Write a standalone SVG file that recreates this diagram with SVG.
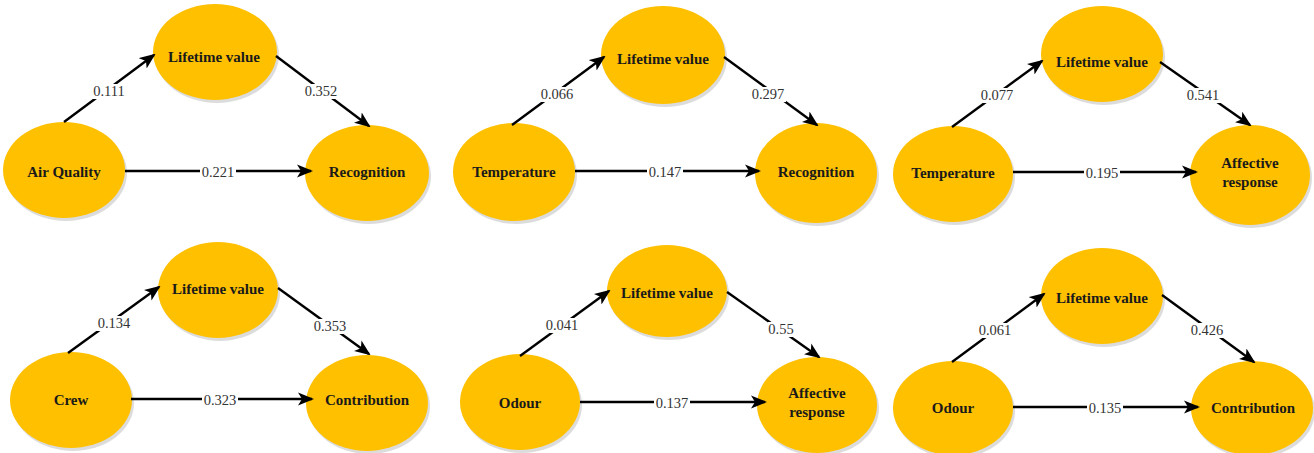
<svg xmlns="http://www.w3.org/2000/svg" width="1314" height="453" viewBox="0 0 1314 453">
<defs>
<marker id="arr" markerUnits="userSpaceOnUse" markerWidth="16" markerHeight="14" viewBox="0 0 16 14" refX="14" refY="7" orient="auto">
<path d="M0,0.5 L16,7 L0,13.5 L4,7 Z" fill="#000"/>
</marker>
</defs>
<style>
.node ellipse.body{fill:#FFC000;}
.node ellipse.sh{fill:#9a9a9a;opacity:0.35;}
.node text{font-family:"Liberation Serif","Times New Roman",serif;font-weight:bold;font-size:15px;fill:#1a1a1a;text-anchor:middle;}
.conn line{stroke:#000;stroke-width:2.4;marker-end:url(#arr);}
.lbl rect{fill:#fff;}
.lbl text{font-family:"Liberation Serif","Times New Roman",serif;font-size:14.5px;fill:#333;text-anchor:middle;}
</style>
<rect width="1314" height="453" fill="#fff"/>

<!-- Panel 1 -->
<g id="p1-lv" class="node"><ellipse class="sh" cx="217" cy="55" rx="62" ry="48"/><ellipse class="body" cx="215" cy="52" rx="62" ry="48"/><text x="214" y="62">Lifetime value</text></g>
<g id="p1-air" class="node"><ellipse class="sh" cx="66" cy="173" rx="61" ry="48"/><ellipse class="body" cx="64" cy="170" rx="61" ry="48"/><text x="64" y="177">Air Quality</text></g>
<g id="p1-rec" class="node"><ellipse class="sh" cx="369" cy="176" rx="62" ry="48"/><ellipse class="body" cx="367" cy="173" rx="62" ry="48"/><text x="367" y="177">Recognition</text></g>

<!-- Panel 2 -->
<g id="p2-lv" class="node"><ellipse class="sh" cx="665" cy="58" rx="62" ry="49"/><ellipse class="body" cx="663" cy="55" rx="62" ry="49"/><text x="663" y="64">Lifetime value</text></g>
<g id="p2-temp" class="node"><ellipse class="sh" cx="516" cy="175" rx="61" ry="49"/><ellipse class="body" cx="514" cy="172" rx="61" ry="49"/><text x="514" y="177">Temperature</text></g>
<g id="p2-rec" class="node"><ellipse class="sh" cx="818" cy="176" rx="61" ry="50"/><ellipse class="body" cx="816" cy="173" rx="61" ry="50"/><text x="816" y="177">Recognition</text></g>

<!-- Panel 3 -->
<g id="p3-lv" class="node"><ellipse class="sh" cx="1104" cy="57" rx="61" ry="48"/><ellipse class="body" cx="1102" cy="54" rx="61" ry="48"/><text x="1102" y="67">Lifetime value</text></g>
<g id="p3-temp" class="node"><ellipse class="sh" cx="955" cy="177" rx="60" ry="48"/><ellipse class="body" cx="953" cy="174" rx="60" ry="48"/><text x="953" y="178">Temperature</text></g>
<g id="p3-aff" class="node"><ellipse class="sh" cx="1252" cy="178" rx="60" ry="50"/><ellipse class="body" cx="1250" cy="175" rx="60" ry="50"/><text x="1250" y="168">Affective</text><text x="1250" y="187">response</text></g>

<!-- Panel 4 -->
<g id="p4-lv" class="node"><ellipse class="sh" cx="220" cy="293" rx="60" ry="48"/><ellipse class="body" cx="218" cy="290" rx="60" ry="48"/><text x="218" y="294">Lifetime value</text></g>
<g id="p4-crew" class="node"><ellipse class="sh" cx="73" cy="403" rx="61" ry="48"/><ellipse class="body" cx="71" cy="400" rx="61" ry="48"/><text x="71" y="405">Crew</text></g>
<g id="p4-con" class="node"><ellipse class="sh" cx="369" cy="406" rx="61" ry="48"/><ellipse class="body" cx="367" cy="403" rx="61" ry="48"/><text x="367" y="405">Contribution</text></g>

<!-- Panel 5 -->
<g id="p5-lv" class="node"><ellipse class="sh" cx="669" cy="294" rx="60" ry="46"/><ellipse class="body" cx="667" cy="291" rx="60" ry="46"/><text x="667" y="298">Lifetime value</text></g>
<g id="p5-odour" class="node"><ellipse class="sh" cx="522" cy="405" rx="60" ry="48"/><ellipse class="body" cx="520" cy="402" rx="60" ry="48"/><text x="520" y="408">Odour</text></g>
<g id="p5-aff" class="node"><ellipse class="sh" cx="819" cy="408" rx="60" ry="48"/><ellipse class="body" cx="817" cy="405" rx="60" ry="48"/><text x="817" y="398">Affective</text><text x="817" y="417">response</text></g>

<!-- Panel 6 -->
<g id="p6-lv" class="node"><ellipse class="sh" cx="1104" cy="299" rx="61" ry="48"/><ellipse class="body" cx="1102" cy="296" rx="61" ry="48"/><text x="1102" y="303">Lifetime value</text></g>
<g id="p6-odour" class="node"><ellipse class="sh" cx="955" cy="411" rx="60" ry="47"/><ellipse class="body" cx="953" cy="408" rx="60" ry="47"/><text x="953" y="413">Odour</text></g>
<g id="p6-con" class="node"><ellipse class="sh" cx="1254" cy="411" rx="61" ry="47"/><ellipse class="body" cx="1252" cy="408" rx="61" ry="47"/><text x="1253" y="413">Contribution</text></g>

<g id="connectors">
<g class="conn">
<line x1="64" y1="122" x2="154" y2="55"/>
<line x1="276" y1="56" x2="369" y2="126"/>
<line x1="125" y1="171" x2="311" y2="171"/>
<line x1="512" y1="125" x2="604" y2="57"/>
<line x1="724" y1="57" x2="817" y2="125"/>
<line x1="575" y1="171" x2="759" y2="171"/>
<line x1="952" y1="127" x2="1042" y2="61"/>
<line x1="1160" y1="62" x2="1250" y2="125"/>
<line x1="1013" y1="172" x2="1196" y2="172"/>
<line x1="68" y1="353" x2="159" y2="287"/>
<line x1="278" y1="288" x2="369" y2="354"/>
<line x1="131" y1="399" x2="312" y2="399"/>
<line x1="520" y1="356" x2="609" y2="291"/>
<line x1="727" y1="292" x2="819" y2="357"/>
<line x1="580" y1="402" x2="765" y2="402"/>
<line x1="952" y1="362" x2="1044" y2="294"/>
<line x1="1162" y1="295" x2="1254" y2="362"/>
<line x1="1013" y1="407" x2="1198" y2="407"/>
</g>
<g class="lbl">
<rect x="91" y="84" width="36" height="15"/><text x="109" y="96">0.111</text>
<rect x="303" y="84" width="36" height="15"/><text x="321" y="96">0.352</text>
<rect x="200" y="165" width="36" height="15"/><text x="218" y="177">0.221</text>
<rect x="539" y="87" width="36" height="15"/><text x="557" y="99">0.066</text>
<rect x="750" y="87" width="36" height="15"/><text x="768" y="99">0.297</text>
<rect x="647" y="165" width="36" height="15"/><text x="665" y="177">0.147</text>
<rect x="979" y="88" width="36" height="15"/><text x="997" y="100">0.077</text>
<rect x="1185" y="88" width="36" height="15"/><text x="1203" y="100">0.541</text>
<rect x="1084" y="166" width="36" height="15"/><text x="1102" y="178">0.195</text>
<rect x="96" y="316" width="36" height="15"/><text x="114" y="328">0.134</text>
<rect x="312" y="319" width="36" height="15"/><text x="330" y="331">0.353</text>
<rect x="202" y="393" width="36" height="15"/><text x="220" y="405">0.323</text>
<rect x="544" y="318" width="36" height="15"/><text x="562" y="330">0.041</text>
<rect x="768" y="322" width="27" height="15"/><text x="781" y="334">0.55</text>
<rect x="654" y="396" width="36" height="15"/><text x="672" y="408">0.137</text>
<rect x="977" y="323" width="36" height="15"/><text x="995" y="335">0.061</text>
<rect x="1189" y="323" width="36" height="15"/><text x="1207" y="335">0.426</text>
<rect x="1087" y="401" width="36" height="15"/><text x="1105" y="413">0.135</text>
</g>
</g>
</svg>
